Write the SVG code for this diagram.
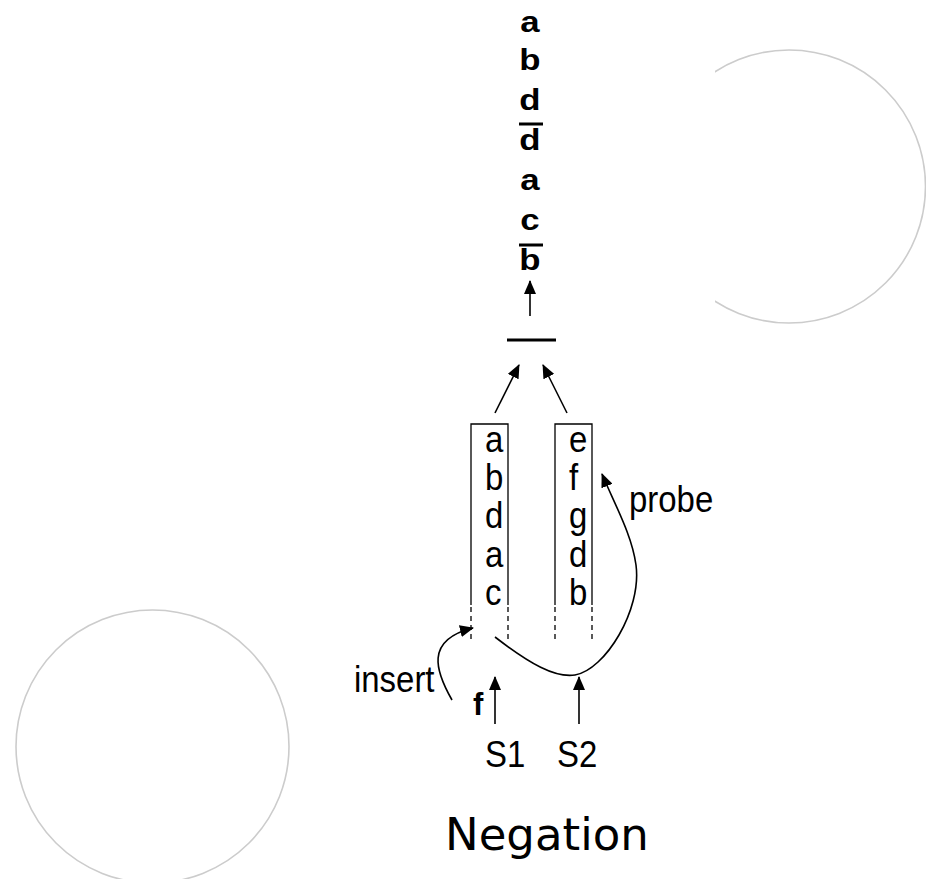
<svg xmlns="http://www.w3.org/2000/svg" width="926" height="879" viewBox="0 0 926 879">
  <defs>
    <marker id="arrow" markerUnits="userSpaceOnUse" markerWidth="14" markerHeight="12" viewBox="0 0 14 12" refX="13" refY="6" orient="auto">
      <path d="M0,0 L14,6 L0,12 Z" fill="#000"/>
    </marker>
    <clipPath id="clipRight">
      <rect x="715" y="0" width="211" height="879"/>
    </clipPath>
  </defs>
  <style>
    .ring { fill: none; stroke: #cccccc; stroke-width: 1.6; }
    .out { font-family: "Liberation Sans", Arial, sans-serif; font-weight: bold; font-size: 29px; fill: #000; text-anchor: middle; }
    .bold { font-family: "Liberation Sans", Arial, sans-serif; font-weight: bold; font-size: 31px; fill: #000; }
    .lbl { font-family: "Liberation Sans", Arial, sans-serif; font-size: 37px; fill: #000; }
    .title { font-family: "DejaVu Sans", sans-serif; font-size: 45px; fill: #000; }
    .bar { stroke: #000; stroke-width: 3; }
    .box { fill: none; stroke: #000; stroke-width: 1.3; }
    .dash { stroke: #000; stroke-width: 1.3; stroke-dasharray: 5 4; }
    .conn { fill: none; stroke: #000; stroke-width: 1.6; }
  </style>
  <rect width="926" height="879" fill="#fff"/>

  <!-- decorative rings -->
  <circle class="ring" cx="789" cy="186.5" r="136.5" clip-path="url(#clipRight)"/>
  <circle class="ring" cx="152.5" cy="746.5" r="136.5"/>

  <!-- output stream (wide bold glyphs) -->
  <g id="output">
    <text class="out" transform="translate(530,32) scale(1.2,1)">a</text>
    <text class="out" transform="translate(530,70) scale(1.2,1)">b</text>
    <text class="out" transform="translate(530,110) scale(1.2,1)">d</text>
    <line class="bar" x1="519" y1="124" x2="543" y2="124"/>
    <text class="out" transform="translate(530,150) scale(1.2,1)">d</text>
    <text class="out" transform="translate(530,190) scale(1.2,1)">a</text>
    <text class="out" transform="translate(530,230) scale(1.2,1)">c</text>
    <line class="bar" x1="519" y1="245" x2="543" y2="245"/>
    <text class="out" transform="translate(530,270) scale(1.2,1)">b</text>
  </g>

  <!-- negation operator -->
  <g id="operator">
    <line class="bar" x1="507" y1="340" x2="556" y2="340"/>
  </g>

  <!-- state S1 (narrow glyphs) -->
  <g id="state-s1">
    <path class="box" d="M471,605 V424 H508 V605"/>
    <line class="dash" x1="471" y1="607" x2="471" y2="642"/>
    <line class="dash" x1="508" y1="607" x2="508" y2="642"/>
    <text class="lbl" transform="translate(485,452) scale(0.89,1)">a</text>
    <text class="lbl" transform="translate(485,490) scale(0.89,1)">b</text>
    <text class="lbl" transform="translate(485,528) scale(0.89,1)">d</text>
    <text class="lbl" transform="translate(485,567) scale(0.89,1)">a</text>
    <text class="lbl" transform="translate(485,605) scale(0.89,1)">c</text>
  </g>

  <!-- state S2 -->
  <g id="state-s2">
    <path class="box" d="M555,605 V424 H592 V605"/>
    <line class="dash" x1="555" y1="607" x2="555" y2="642"/>
    <line class="dash" x1="592" y1="607" x2="592" y2="642"/>
    <text class="lbl" transform="translate(569,452) scale(0.89,1)">e</text>
    <text class="lbl" transform="translate(569,490) scale(0.89,1)">f</text>
    <text class="lbl" transform="translate(569,528) scale(0.89,1)">g</text>
    <text class="lbl" transform="translate(569,567) scale(0.89,1)">d</text>
    <text class="lbl" transform="translate(569,605) scale(0.89,1)">b</text>
  </g>

  <!-- inputs -->
  <g id="input-s1">
    <text class="bold" x="473" y="715">f</text>
    <text class="lbl" transform="translate(485,767) scale(0.89,1)">S1</text>
  </g>
  <g id="input-s2">
    <text class="lbl" transform="translate(557,767) scale(0.89,1)">S2</text>
  </g>

  <g id="labels">
    <text class="lbl" transform="translate(354,692) scale(0.89,1)">insert</text>
    <text class="lbl" transform="translate(629,512) scale(0.89,1)">probe</text>
  </g>

  <g id="title">
    <text class="title" x="445" y="850">Negation</text>
  </g>

  <!-- connectors -->
  <g id="connectors">
    <line class="conn" x1="530" y1="316" x2="530" y2="281" marker-end="url(#arrow)"/>
    <line class="conn" x1="495" y1="413" x2="519" y2="365" marker-end="url(#arrow)"/>
    <line class="conn" x1="567" y1="413" x2="543" y2="365" marker-end="url(#arrow)"/>
    <line class="conn" x1="495" y1="724" x2="495" y2="677" marker-end="url(#arrow)"/>
    <line class="conn" x1="579" y1="724" x2="579" y2="677" marker-end="url(#arrow)"/>
    <path class="conn" d="M452,700 C436,672 424,640 473,628" marker-end="url(#arrow)"/>
    <path class="conn" d="M495,637 C530,664 555,678 575,675 C605,670 642,610 636,565 C632,535 615,505 602,474" marker-end="url(#arrow)"/>
  </g>
</svg>
